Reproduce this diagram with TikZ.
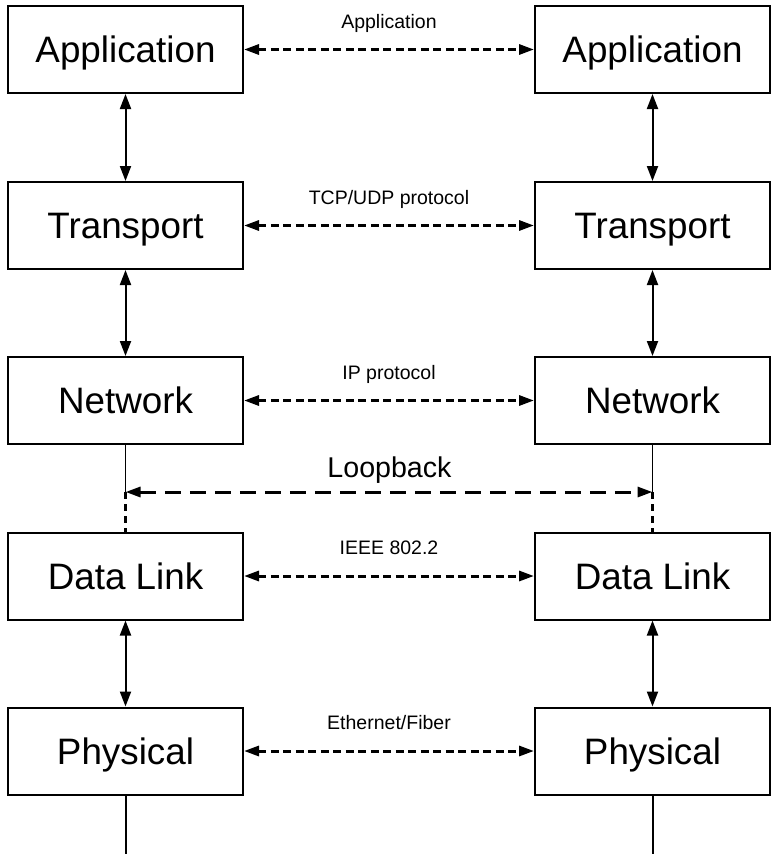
\documentclass[tikz,border=0pt]{standalone}
\usepackage{fontspec}
\setmainfont{Liberation Sans}
\usetikzlibrary{arrows.meta}
\begin{document}
\begin{tikzpicture}[x=1pt,y=-1pt,
  layerbox/.style={draw, line width=2pt, minimum width=235pt, minimum height=87pt, inner sep=0pt,
    text height=26.4pt, text depth=0pt, font=\fontsize{36.8}{40}\selectfont},
  vlink/.style={line width=2pt, {Triangle[length=15pt,width=11pt]}-{Triangle[length=15pt,width=11pt]}},
  peer/.style={line width=3pt, dash pattern=on 8pt off 4.5pt, {Triangle[length=15pt,width=10pt]}-{Triangle[length=15pt,width=10pt]}},
  plabel/.style={anchor=base, font=\fontsize{19.5}{22}\selectfont, inner sep=0pt},
  thin/.style={line width=1.6pt}]
\useasboundingbox (0,0) rectangle (775,854);
\fill[white] (0,0) rectangle (775,854);
% left stack
\node[layerbox] (L1) at (125.5,49.5) {Application};
\node[layerbox] (L2) at (125.5,225.5) {Transport};
\node[layerbox] (L3) at (125.5,400.5) {Network};
\node[layerbox] (L4) at (125.5,576) {Data Link};
\node[layerbox] (L5) at (125.5,751) {Physical};
% right stack
\node[layerbox] (R1) at (652.5,49.5) {Application};
\node[layerbox] (R2) at (652.5,225.5) {Transport};
\node[layerbox] (R3) at (652.5,400.5) {Network};
\node[layerbox] (R4) at (652.5,576) {Data Link};
\node[layerbox] (R5) at (652.5,751) {Physical};
% vertical links
\draw[vlink] (L1) -- (L2);
\draw[vlink] (L2) -- (L3);
\draw[vlink] (L4) -- (L5);
\draw[vlink] (R1) -- (R2);
\draw[vlink] (R2) -- (R3);
\draw[vlink] (R4) -- (R5);
% peer links
\draw[peer] (L1) -- (R1);
\draw[peer] (L2) -- (R2);
\draw[peer] (L3) -- (R3);
\draw[peer] (L4) -- (R4);
\draw[peer] (L5) -- (R5);
% peer labels
\node[plabel] (t1) at (389,28) {Application};
\node[plabel] (t2) at (389,204) {TCP/UDP protocol};
\node[plabel] (t3) at (389,379) {IP protocol};
\node[plabel] (t4) at (389,554.5) {IEEE 802.2};
\node[plabel] (t5) at (389,729.5) {Ethernet/Fiber};
% loopback
\coordinate (lbL) at (125.5,492);
\coordinate (lbR) at (652.5,492);
\draw[thin] (L3.south) -- (lbL);
\draw[thin] (R3.south) -- (lbR);
\draw[line width=2.4pt, dash pattern=on 7pt off 5pt] (lbL) -- (L4.north);
\draw[line width=2.4pt, dash pattern=on 7pt off 5pt] (lbR) -- (R4.north);
\draw[line width=3pt, dash pattern=on 16pt off 9pt, {Triangle[length=15pt,width=10pt]}-{Triangle[length=15pt,width=10pt]}] (lbL) -- (lbR);
\node[anchor=base, font=\fontsize{28.6}{32}\selectfont, inner sep=0pt] (lbt) at (389.5,477) {Loopback};
% bottom lines
\coordinate (bL) at (125.5,854);
\coordinate (bR) at (652.5,854);
\draw[line width=2pt] (L5.south) -- (bL);
\draw[line width=2pt] (R5.south) -- (bR);
\end{tikzpicture}
\end{document}
